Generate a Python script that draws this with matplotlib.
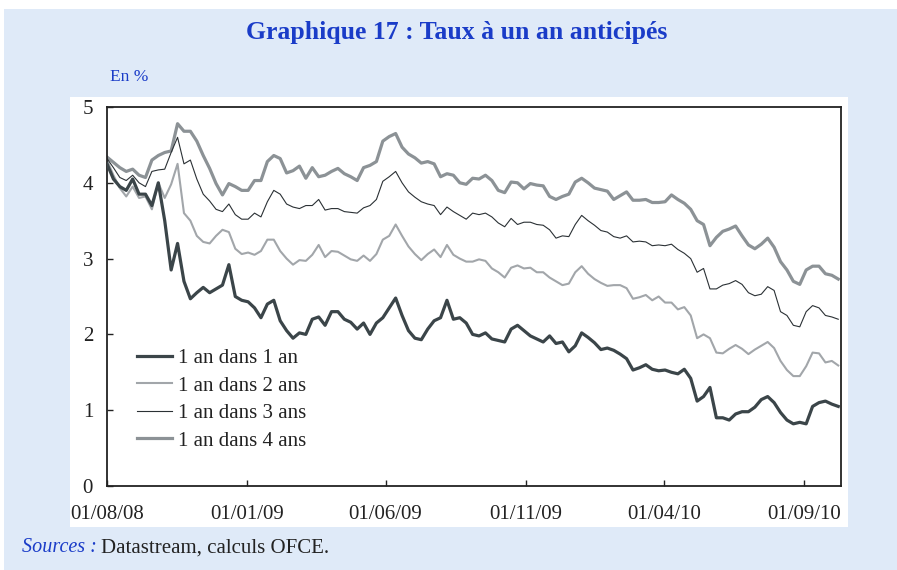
import pandas as pd
import matplotlib
matplotlib.use("Agg")
import matplotlib.pyplot as plt
import matplotlib.dates as mdates
from matplotlib.patches import Rectangle

# weekly readings, 1 Aug 2008 -> early Oct 2010
dates = pd.date_range("2008-08-01", periods=115, freq="7D")

un_an_1 = [4.25, 4.05, 3.95, 3.9, 4.05, 3.85, 3.85, 3.7, 4.0, 3.5, 2.85, 3.2, 2.7, 2.47, 2.55, 2.62, 2.55, 2.6, 2.65, 2.92,
           2.5, 2.45, 2.43, 2.35, 2.22, 2.4, 2.45, 2.18, 2.05, 1.95, 2.02, 2.0, 2.2, 2.23, 2.12, 2.3, 2.3, 2.2, 2.16,
           2.07, 2.15, 2.0, 2.15, 2.22, 2.35, 2.48, 2.25, 2.05, 1.95, 1.93, 2.07, 2.18, 2.22, 2.45, 2.2, 2.22, 2.15, 2.0,
           1.98, 2.02, 1.94, 1.92, 1.9, 2.07, 2.12, 2.05, 1.98, 1.94, 1.9, 1.98, 1.88, 1.9, 1.77, 1.85, 2.02, 1.96, 1.89,
           1.8, 1.82, 1.79, 1.74, 1.68, 1.53, 1.56, 1.6, 1.54, 1.52, 1.53, 1.5, 1.48, 1.54, 1.42, 1.12, 1.18, 1.3, 0.9,
           0.9, 0.87, 0.95, 0.98, 0.98, 1.04, 1.14, 1.18, 1.1, 0.97, 0.87, 0.82, 0.84, 0.82, 1.05, 1.1, 1.12, 1.08, 1.05]

un_an_2 = [4.3, 4.1, 3.93, 3.82, 3.95, 3.8, 3.82, 3.65, 4.0, 3.8, 3.98, 4.25, 3.6, 3.5, 3.3, 3.22, 3.2, 3.3, 3.38, 3.35,
           3.13, 3.06, 3.08, 3.05, 3.1, 3.25, 3.25, 3.1, 3.0, 2.92, 2.98, 2.97, 3.05, 3.18, 3.02, 3.1, 3.09, 3.04, 2.99,
           2.97, 3.04, 2.97, 3.06, 3.25, 3.3, 3.45, 3.3, 3.16, 3.06, 2.98, 3.06, 3.12, 3.02, 3.18, 3.05, 3.0, 2.96, 2.96,
           2.99, 2.97, 2.87, 2.82, 2.75, 2.88, 2.91, 2.87, 2.88, 2.82, 2.82, 2.75, 2.7, 2.65, 2.67, 2.82, 2.9, 2.8, 2.73,
           2.68, 2.64, 2.65, 2.65, 2.61, 2.47, 2.49, 2.52, 2.45, 2.5, 2.42, 2.42, 2.33, 2.36, 2.25, 1.95, 2.0, 1.95, 1.76,
           1.75, 1.81, 1.86, 1.81, 1.74, 1.8, 1.85, 1.9, 1.82, 1.65, 1.53, 1.45, 1.45, 1.58, 1.76, 1.75, 1.63, 1.65, 1.59]

un_an_3 = [4.32, 4.2, 4.07, 4.03, 4.1, 4.0, 3.95, 4.15, 4.17, 4.18, 4.4, 4.6, 4.25, 4.3, 4.05, 3.85, 3.76, 3.65, 3.62, 3.72,
           3.58, 3.52, 3.52, 3.6, 3.55, 3.75, 3.9, 3.85, 3.72, 3.68, 3.66, 3.7, 3.7, 3.78, 3.64, 3.66, 3.66, 3.62, 3.61,
           3.6, 3.67, 3.7, 3.78, 4.02, 4.08, 4.15, 4.0, 3.88, 3.81, 3.75, 3.72, 3.7, 3.58, 3.68, 3.62, 3.57, 3.52, 3.6,
           3.58, 3.6, 3.55, 3.47, 3.42, 3.53, 3.45, 3.48, 3.48, 3.45, 3.44, 3.38, 3.27, 3.3, 3.29, 3.45, 3.57, 3.5, 3.44,
           3.37, 3.35, 3.29, 3.27, 3.3, 3.22, 3.23, 3.22, 3.17, 3.18, 3.17, 3.19, 3.12, 3.07, 3.0, 2.82, 2.87, 2.6, 2.6,
           2.65, 2.67, 2.71, 2.66, 2.55, 2.51, 2.53, 2.63, 2.58, 2.3, 2.25, 2.12, 2.1, 2.3, 2.38, 2.35, 2.25, 2.23, 2.2]

un_an_4 = [4.34, 4.27, 4.2, 4.15, 4.18, 4.1, 4.07, 4.3, 4.36, 4.4, 4.42, 4.78, 4.68, 4.68, 4.55, 4.36, 4.19, 3.99, 3.84, 3.99,
           3.95, 3.9, 3.9, 4.03, 4.03, 4.28, 4.36, 4.32, 4.13, 4.16, 4.22, 4.06, 4.2, 4.08, 4.1, 4.15, 4.19, 4.12, 4.08,
           4.03, 4.2, 4.23, 4.28, 4.55, 4.61, 4.65, 4.47, 4.38, 4.33, 4.26, 4.28, 4.25, 4.08, 4.12, 4.1, 4.0, 3.98, 4.06,
           4.05, 4.1, 4.03, 3.9, 3.87, 4.01, 4.0, 3.92, 3.99, 3.97, 3.96, 3.82, 3.78, 3.82, 3.85, 4.01, 4.06, 4.0, 3.93,
           3.91, 3.89, 3.78, 3.83, 3.88, 3.77, 3.77, 3.78, 3.74, 3.74, 3.75, 3.84, 3.78, 3.73, 3.65, 3.5, 3.45, 3.17, 3.28,
           3.36, 3.39, 3.43, 3.3, 3.18, 3.13, 3.19, 3.27, 3.15, 2.96, 2.85, 2.7, 2.66, 2.85, 2.9, 2.9, 2.8, 2.78, 2.73]

labels = ["1 an dans 1 an", "1 an dans 2 ans", "1 an dans 3 ans", "1 an dans 4 ans"]
tick_dates = ["2008-08-01", "2009-01-01", "2009-06-01", "2009-11-01", "2010-04-01", "2010-09-01"]

BLUE = "#1a3cc8"
plt.rcParams["font.family"] = ["Liberation Serif", "DejaVu Serif"]

fig = plt.figure(figsize=(8.97, 5.70), dpi=100)
fig.patch.set_facecolor("white")
fig.patches.append(Rectangle((4 / 897, 0), 1, (570 - 9) / 570, transform=fig.transFigure,
                             facecolor="#dfeaf8", edgecolor="none", zorder=-2))
fig.patches.append(Rectangle((70 / 897, (570 - 527) / 570), (848 - 70) / 897, (527 - 97) / 570,
                             transform=fig.transFigure, facecolor="white", edgecolor="none", zorder=-1))

ax = fig.add_axes([107 / 897, (570 - 486) / 570, (841 - 107) / 897, (486 - 107) / 570])
ax.set_facecolor("white")

ax.plot(dates, un_an_1, color="#3b4549", lw=2.3, label=labels[0], zorder=3)
ax.plot(dates, un_an_2, color="#a2a6aa", lw=1.5, label=labels[1], zorder=2)
ax.plot(dates, un_an_3, color="#2b3135", lw=0.8, label=labels[2], zorder=2)
ax.plot(dates, un_an_4, color="#8c9296", lw=2.3, label=labels[3], zorder=1)

ax.set_ylim(0, 5)
ax.set_yticks([0, 1, 2, 3, 4, 5])
ax.set_xlim(pd.Timestamp("2008-08-01"), pd.Timestamp("2010-10-11"))
ax.set_xticks(pd.to_datetime(tick_dates))
ax.xaxis.set_major_formatter(mdates.DateFormatter("%d/%m/%y"))

for sp in ax.spines.values():
    sp.set_color("#222222")
    sp.set_linewidth(1.3)
ax.tick_params(axis="both", direction="in", length=4, width=1, color="#222222",
               labelsize=15, labelcolor="#222222")
ax.tick_params(axis="y", pad=10)
ax.tick_params(axis="x", pad=14)

leg = ax.legend(loc="upper left", bbox_to_anchor=(0.026, 0.39), frameon=False, fontsize=15,
                handlelength=1.68, handletextpad=0.32, labelspacing=0.38, borderpad=0)
for t in leg.get_texts():
    t.set_color("#222222")

fig.text(0.5095, (570 - 32) / 570, "Graphique 17 : Taux à un an anticipés", ha="center", va="center",
         fontsize=18.5, fontweight="bold", color=BLUE)
fig.text(110 / 897, (570 - 77) / 570, "En %", ha="left", va="center", fontsize=12.5, color=BLUE)

src = fig.text(22 / 897, (570 - 548) / 570, "Sources :", ha="left", va="center", fontsize=14.5,
               style="italic", color=BLUE)
fig.canvas.draw()
bb = src.get_window_extent()
fig.text((bb.x1 + 4) / 897, (570 - 548) / 570, "Datastream, calculs OFCE.", ha="left", va="center",
         fontsize=15, color="#222222")

fig.savefig("out.png", dpi=100)
